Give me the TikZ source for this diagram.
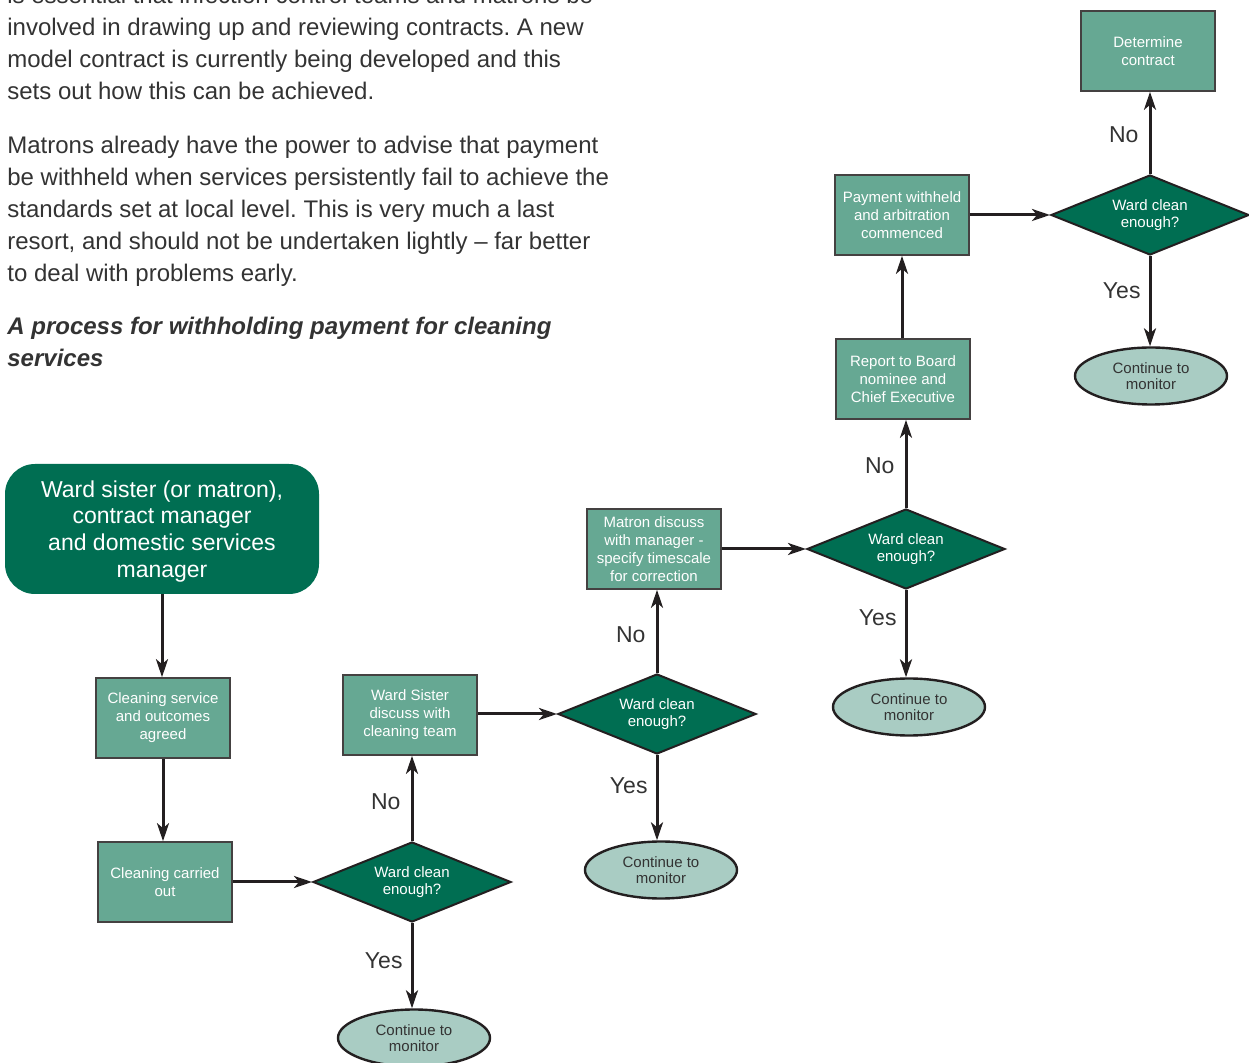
\documentclass[tikz,border=0pt]{standalone}
\usepackage{fontspec}
\setmainfont{Liberation Sans}
\usetikzlibrary{shapes.geometric,arrows.meta}
\frenchspacing
\definecolor{wcdark}{HTML}{006E52}
\definecolor{wcmid}{HTML}{66A893}
\definecolor{wclight}{HTML}{A9CCC3}
\definecolor{wctext}{HTML}{333333}
\definecolor{wcline}{HTML}{231F20}

\tikzset{
  body/.style={anchor=base west,align=left,text=wctext,inner sep=0pt,font=\fontsize{12}{16}\selectfont},
  startbox/.style={rounded corners=15pt,fill=wcdark,text=white,align=center,minimum width=157pt,minimum height=65pt,inner sep=0pt,font=\fontsize{11.5}{13.4}\selectfont},
  stepbox/.style={rectangle,fill=wcmid,draw=wcline!85,line width=0.8pt,text=white,align=center,minimum width=67pt,minimum height=40pt,inner sep=0pt,font=\fontsize{7.5}{9}\selectfont},
  check/.style={diamond,aspect=2.5,fill=wcdark,draw=wcline,line width=1pt,text=white,align=center,minimum width=99pt,minimum height=40pt,inner sep=0pt,font=\fontsize{7.5}{8.5}\selectfont},
  monitor/.style={ellipse,fill=wclight,draw=wcline,line width=1.2pt,text=wctext,align=center,minimum width=76pt,minimum height=28.5pt,inner sep=0pt,font=\fontsize{7.5}{8.3}\selectfont},
  flow/.style={draw=wcline,line width=1.5pt,-{Stealth[length=9pt,width=6pt,inset=2.5pt]}},
  answer/.style={text=wctext,inner sep=0pt,font=\fontsize{11.5}{13}\selectfont}
}

\begin{document}
\begin{tikzpicture}[x=0.5pt,y=-0.5pt]
\useasboundingbox (0,0) rectangle (1249,1063);

\node[body] (intro) at (7,100) {is essential that infection control teams and matrons be\\involved in drawing up and reviewing contracts. A new\\model contract is currently being developed and this\\sets out how this can be achieved.};
\node[body] (matrons) at (7,282) {Matrons already have the power to advise that payment\\be withheld when services persistently fail to achieve the\\standards set at local level. This is very much a last\\resort, and should not be undertaken lightly -- far better\\to deal with problems early.};
\node[body,font=\fontsize{12}{16}\selectfont\bfseries\itshape] (heading) at (7,367) {A process for withholding payment for cleaning\\services};

\node[startbox,text depth=0pt] (team) at (162,529) {Ward sister (or matron),\\contract manager\\and domestic services\\manager};
\node[stepbox] (agreed) at (163,718) {Cleaning service\\and outcomes\\agreed};
\node[stepbox] (carried) at (165,882) {Cleaning carried\\out};
\node[check] (check1) at (412,882) {Ward clean\\enough?};
\node[stepbox] (sister) at (410,715) {Ward Sister\\discuss with\\cleaning team};
\node[monitor] (cont1) at (414,1038) {Continue to\\monitor};

\node[check] (check2) at (657,714) {Ward clean\\enough?};
\node[stepbox] (matron) at (654,549) {Matron discuss\\with manager -\\specify timescale\\for correction};
\node[monitor] (cont2) at (661,870) {Continue to\\monitor};

\node[check] (check3) at (906,549) {Ward clean\\enough?};
\node[stepbox] (report) at (903,379) {Report to Board\\nominee and\\Chief Executive};
\node[stepbox] (payment) at (902,215) {Payment withheld\\and arbitration\\commenced};
\node[monitor] (cont3) at (909,707) {Continue to\\monitor};

\node[check] (check4) at (1150,215) {Ward clean\\enough?};
\node[stepbox] (decide) at (1148,51) {Determine\\contract};
\node[monitor] (cont4) at (1151,376) {Continue to\\monitor};

\draw[flow] (team.south) -- (team.south |- agreed.north);
\draw[flow] (agreed) -- (agreed.south |- carried.north);
\draw[flow] (carried) -- (check1);
\draw[flow] (check1.north) -- node[answer,left=5pt,pos=0.46] {No} (check1.north |- sister.south);
\draw[flow] (check1.south) -- node[answer,left=4pt,pos=0.44] {Yes} (check1.south |- cont1.north);
\draw[flow] (sister.east |- check2.west) -- (check2.west);
\draw[flow] (check2.north) -- node[answer,left=5pt,pos=0.46] {No} (check2.north |- matron.south);
\draw[flow] (check2.south) -- node[answer,left=4pt,pos=0.36] {Yes} (check2.south |- cont2.north);
\draw[flow] (matron) -- (check3);
\draw[flow] (check3.north) -- node[answer,left=5pt,pos=0.48] {No} (check3.north |- report.south);
\draw[flow] (check3.south) -- node[answer,left=4pt,pos=0.32] {Yes} (check3.south |- cont3.north);
\draw[flow] (report.north -| payment.south) -- (payment.south);
\draw[flow] (payment) -- (check4);
\draw[flow] (check4.north) -- node[answer,left=5pt,pos=0.48] {No} (check4.north |- decide.south);
\draw[flow] (check4.south) -- node[answer,left=4pt,pos=0.38] {Yes} (check4.south |- cont4.north);
\end{tikzpicture}
\end{document}
